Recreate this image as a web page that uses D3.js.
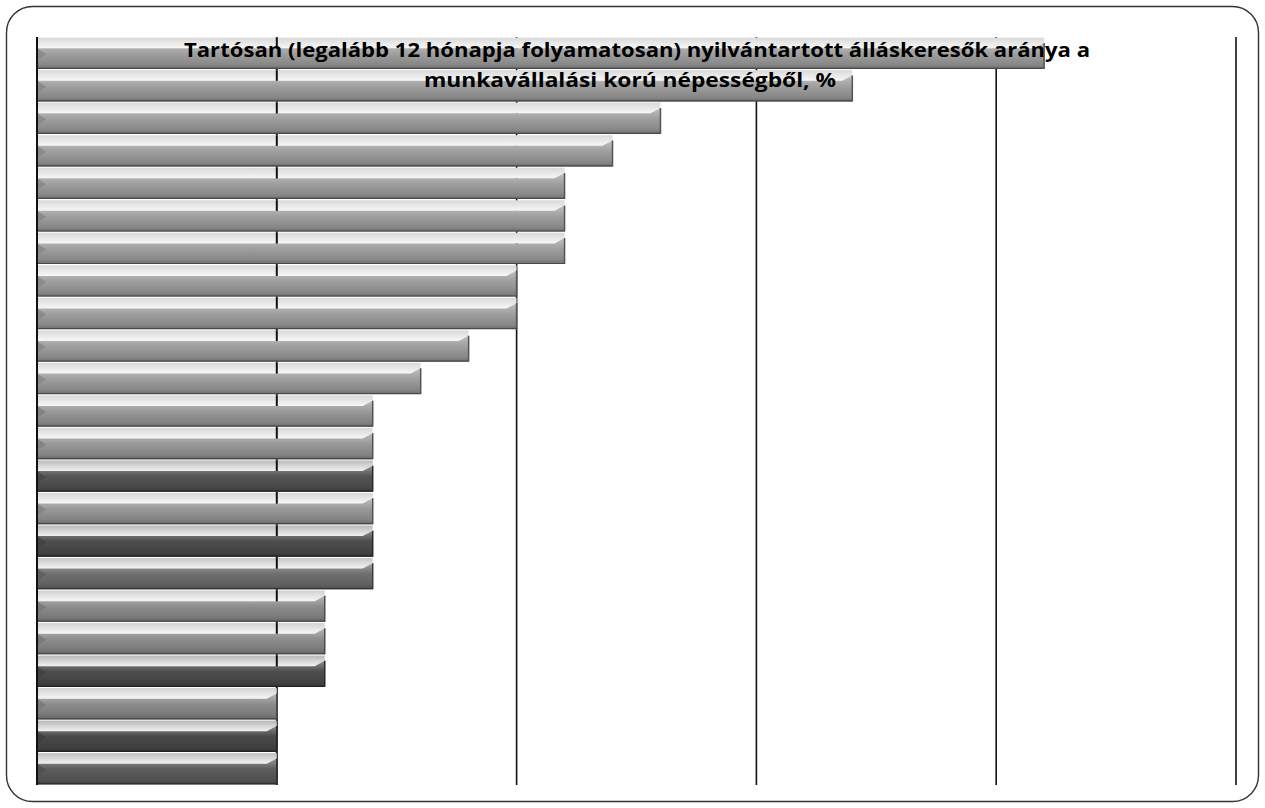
<!DOCTYPE html>
<html><head><meta charset="utf-8">
<script src="https://cdn.jsdelivr.net/npm/d3@7"></script>
<style>html,body{margin:0;padding:0;background:#fff;}svg{display:block;}</style>
</head><body>
<script>
const categories = ["1","2","3","4","5","6","7","8","9","10","11","12","13","14","15","16","17","18","19","20","21","22","23"];
const values = [4.2, 3.4, 2.6, 2.4, 2.2, 2.2, 2.2, 2.0, 2.0, 1.8, 1.6, 1.4, 1.4, 1.4, 1.4, 1.4, 1.4, 1.2, 1.2, 1.2, 1.0, 1.0, 1.0];
const shades = ["#a0a0a0","#a0a0a0","#a0a0a0","#a0a0a0","#a0a0a0","#a0a0a0","#a0a0a0","#a0a0a0","#a0a0a0","#a0a0a0","#a0a0a0","#9a9a9a","#9a9a9a","#555555","#9a9a9a","#4e4e4e","#707070","#8e8e8e","#8e8e8e","#4e4e4e","#8e8e8e","#4a4a4a","#5e5e5e"];
const xTicks = [0, 1, 2, 3, 4, 5];
const titleLines = ["Tartósan (legalább 12 hónapja folyamatosan) nyilvántartott álláskeresők aránya a", "munkavállalási korú népességből, %"];

const W = 1265, H = 808;
const svg = d3.select("body").append("svg").attr("width", W).attr("height", H);
const defs = svg.append("defs");

const plot = {left: 37, right: 1236, top: 37, bottom: 785};
const x = d3.scaleLinear().domain([0, 5]).range([plot.left, plot.right]);
const y = d3.scaleBand().domain(categories).range([plot.top, plot.bottom]).paddingInner(0.04).paddingOuter(0.02);

// outer rounded frame
svg.append("rect").attr("x", 6.5).attr("y", 6.5).attr("width", W - 13).attr("height", H - 13)
  .attr("rx", 26).attr("fill", "#fff").attr("stroke", "#333").attr("stroke-width", 1.4);

// gradients per bar
shades.forEach((c, i) => {
  const base = d3.color(c);
  const g = defs.append("linearGradient").attr("id", "gf" + i).attr("x1", 0).attr("y1", 0).attr("x2", 0).attr("y2", 1);
  g.append("stop").attr("offset", "0%").attr("stop-color", d3.interpolateRgb(c, "#fff")(0.35));
  g.append("stop").attr("offset", "40%").attr("stop-color", c);
  g.append("stop").attr("offset", "85%").attr("stop-color", base.darker(0.5));
  g.append("stop").attr("offset", "100%").attr("stop-color", base.darker(1.1));
  const t = defs.append("linearGradient").attr("id", "gt" + i).attr("x1", 0).attr("y1", 0).attr("x2", 0).attr("y2", 1);
  t.append("stop").attr("offset", "0%").attr("stop-color", d3.interpolateRgb(c, "#fff")(0.6));
  t.append("stop").attr("offset", "100%").attr("stop-color", d3.interpolateRgb(c, "#fff")(0.92));
});

// gridlines
const grid = svg.append("g");
grid.selectAll("line").data(xTicks.slice(1)).join("line")
  .attr("x1", d => x(d)).attr("x2", d => x(d))
  .attr("y1", plot.top).attr("y2", plot.bottom)
  .attr("stroke", "#111").attr("stroke-width", d => d === 1 ? 2 : 1.6);

// bars
const bars = svg.append("g");
const bh = y.bandwidth();
const topH = bh * 0.34;
const bev = 10;
values.forEach((v, i) => {
  const c = categories[i];
  const y0 = y(c), x0 = x(0), x1 = x(v);
  const g = bars.append("g");
  g.append("rect").attr("x", x0).attr("y", y0).attr("width", x1 - x0).attr("height", topH)
    .attr("fill", `url(#gt${i})`);
  const fy = y0 + topH, by = y0 + bh;
  g.append("path")
    .attr("d", `M${x0},${fy} L${x1 - bev},${fy} L${x1},${fy - 0.5 * topH} L${x1},${by} L${x0},${by} Z`)
    .attr("fill", `url(#gf${i})`);
  g.append("path").attr("d", `M${x0},${fy} L${x0 + 9},${fy + 6} L${x0},${fy + 12} Z`)
    .attr("fill", d3.color(shades[i]).darker(0.6)).attr("opacity", 0.7);
  g.append("line").attr("x1", x1).attr("x2", x1).attr("y1", fy - 0.5 * topH).attr("y2", by)
    .attr("stroke", d3.color(shades[i]).darker(1.8)).attr("stroke-width", 1.5);
  g.append("line").attr("x1", x0).attr("x2", x1).attr("y1", by - 0.5).attr("y2", by - 0.5)
    .attr("stroke", d3.color(shades[i]).darker(2.2)).attr("stroke-width", 1.2);
});

// first gridline visible through light strips
svg.append("g").selectAll("line").data(values).join("line")
  .attr("x1", x(1)).attr("x2", x(1))
  .attr("y1", (d, i) => y(categories[i])).attr("y2", (d, i) => y(categories[i]) + topH)
  .attr("stroke", "#111").attr("stroke-width", 2)
  .attr("display", d => d > 1 ? null : "none");

// y axis line
svg.append("line").attr("x1", plot.left).attr("x2", plot.left).attr("y1", plot.top).attr("y2", plot.bottom)
  .attr("stroke", "#111").attr("stroke-width", 2);

// title
const title = svg.append("text").attr("text-anchor", "middle")
  .attr("font-family", "'Open Sans', sans-serif").attr("font-weight", "bold").attr("font-size", 20)
  .attr("fill", "#000");
title.append("tspan").attr("x", 637).attr("y", 57).attr("textLength", 906).attr("lengthAdjust", "spacingAndGlyphs").text(titleLines[0]);
title.append("tspan").attr("x", 630).attr("y", 87).attr("textLength", 412).attr("lengthAdjust", "spacingAndGlyphs").text(titleLines[1]);
</script>
</body></html>
